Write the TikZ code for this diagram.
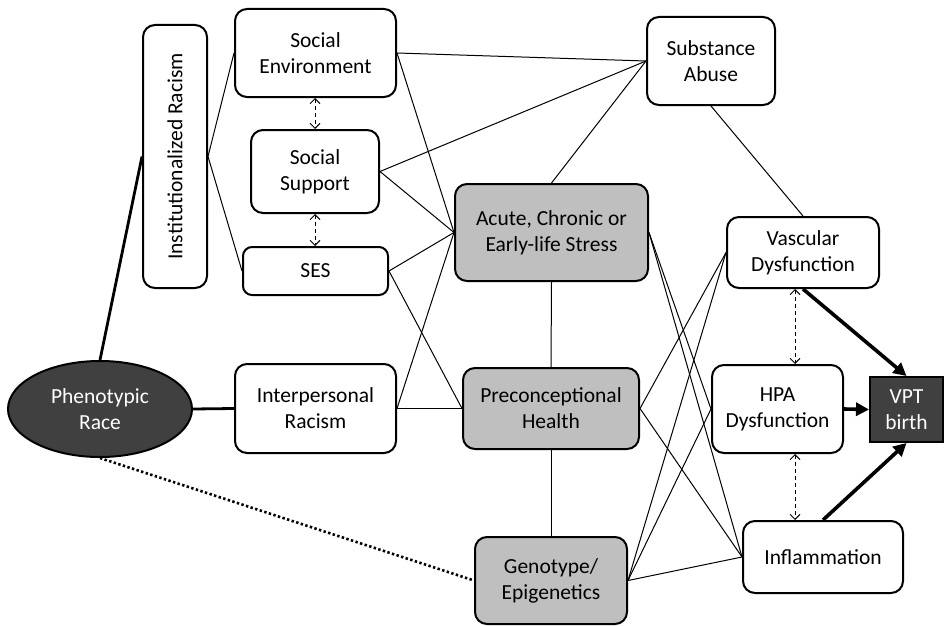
\documentclass[tikz,border=0pt]{standalone}
\usepackage{fontspec}
\usepackage{graphicx}
\setmainfont{Carlito}
\usetikzlibrary{arrows.meta,shapes.geometric}
\definecolor{boxgray}{HTML}{BFBFBF}
\definecolor{darkfill}{HTML}{404040}
\begin{document}
\begin{tikzpicture}[x=1pt,y=-1pt,
  every node/.style={font=\fontsize{21.5}{26}\selectfont, align=center, inner sep=0pt},
  box/.style={draw, line width=2pt, rounded corners=12pt, fill=white},
  graybox/.style={box, fill=boxgray},
  link/.style={line width=1pt},
  heavy/.style={line width=2.8pt},
  bold/.style={line width=3.6pt, -{Triangle[length=13pt,width=13pt]}},
  dotline/.style={line width=2.6pt, dash pattern=on 2.4pt off 2.4pt},
  dasharrow/.style={line width=0.9pt, dash pattern=on 4pt off 3pt,
    {Straight Barb[length=5pt,width=10pt]}-{Straight Barb[length=5pt,width=10pt]}},
]
\useasboundingbox (0,0) rectangle (945,626);

% nodes
\node[box, minimum width=64pt, minimum height=263pt] (inst) at (175,156.5)
  {\rotatebox{90}{Institutionalized Racism}};
\node[box, minimum width=161pt, minimum height=88pt] (socenv) at (315.5,53) {Social\\Environment};
\node[box, minimum width=128pt, minimum height=83pt] (socsup) at (315,171.5) {Social\\Support};
\node[box, rounded corners=9pt, minimum width=145pt, minimum height=48pt] (ses) at (315.5,271) {SES};
\node[box, minimum width=161pt, minimum height=89pt] (interp) at (315.5,408.5) {Interpersonal\\Racism};
\node[draw, ellipse, line width=2pt, fill=darkfill, text=white,
  minimum width=184pt, minimum height=96pt] (race) at (100,409) {Phenotypic\\Race};
\node[box, minimum width=128pt, minimum height=88pt] (subst) at (711,61) {Substance\\Abuse};
\node[graybox, minimum width=193pt, minimum height=97pt] (acute) at (551.5,232.5) {Acute, Chronic or\\Early-life Stress};
\node[graybox, minimum width=176pt, minimum height=81pt] (precon) at (551,408.5) {Preconceptional\\Health};
\node[graybox, minimum width=152pt, minimum height=87pt] (geno) at (551,580.5) {Genotype/\\Epigenetics};
\node[box, minimum width=152pt, minimum height=71pt] (vasc) at (803,252.5) {Vascular\\Dysfunction};
\node[box, minimum width=131pt, minimum height=88pt] (hpa) at (777.5,409) {HPA\\Dysfunction};
\node[box, minimum width=160pt, minimum height=72pt] (infl) at (823,557) {Inflammation};
\node[draw, line width=2pt, fill=darkfill, text=white,
  minimum width=73pt, minimum height=65pt] (vpt) at (906.5,409.5) {VPT\\birth};

% anchors for the vertical dashed links
\coordinate (colL) at (315,0);
\coordinate (colR) at (795,0);

% race links
\draw[heavy] (race.north) -- (inst.west);
\draw[heavy] (race.east) -- (interp.west);
\draw[dotline] (race.south) -- (geno.west);

% institutionalized racism
\draw[link] (inst.east) -- (socenv.west);
\draw[link] (inst.east) -- (ses.west);

% social cluster
\draw[dasharrow] (socenv.south -| colL) -- (socsup.north -| colL);
\draw[dasharrow] (socsup.south -| colL) -- (ses.north -| colL);
\draw[link] (socenv.east) -- (subst.west);
\draw[link] (socenv.east) -- (acute.west);
\draw[link] (socsup.east) -- (subst.west);
\draw[link] (socsup.east) -- (acute.west);
\draw[link] (ses.east) -- (acute.west);
\draw[link] (ses.east) -- (precon.west);
\draw[link] (interp.east) -- (acute.west);
\draw[link] (interp.east) -- (precon.west);

% central column
\draw[link] (acute.north) -- (subst.west);
\draw[link] (acute.south) -- (precon.north);
\draw[link] (precon.south) -- (geno.north);
\draw[link] (subst.south) -- (vasc.north);

% links to the physiological pathways
\draw[link] (acute.east) -- (hpa.west);
\draw[link] (acute.east) -- (infl.west);
\draw[link] (precon.east) -- (vasc.west);
\draw[link] (precon.east) -- (infl.west);
\draw[link] (geno.east) -- (vasc.west);
\draw[link] (geno.east) -- (hpa.west);
\draw[link] (geno.east) -- (infl.west);

% pathway interplay
\draw[dasharrow] (vasc.south -| colR) -- (hpa.north -| colR);
\draw[dasharrow] (hpa.south -| colR) -- (infl.north -| colR);

% outcome
\draw[bold] (vasc.south) -- (vpt.north);
\draw[bold] (hpa.east) -- (vpt.west);
\draw[bold] (infl.north) -- (vpt.south);
\end{tikzpicture}
\end{document}
